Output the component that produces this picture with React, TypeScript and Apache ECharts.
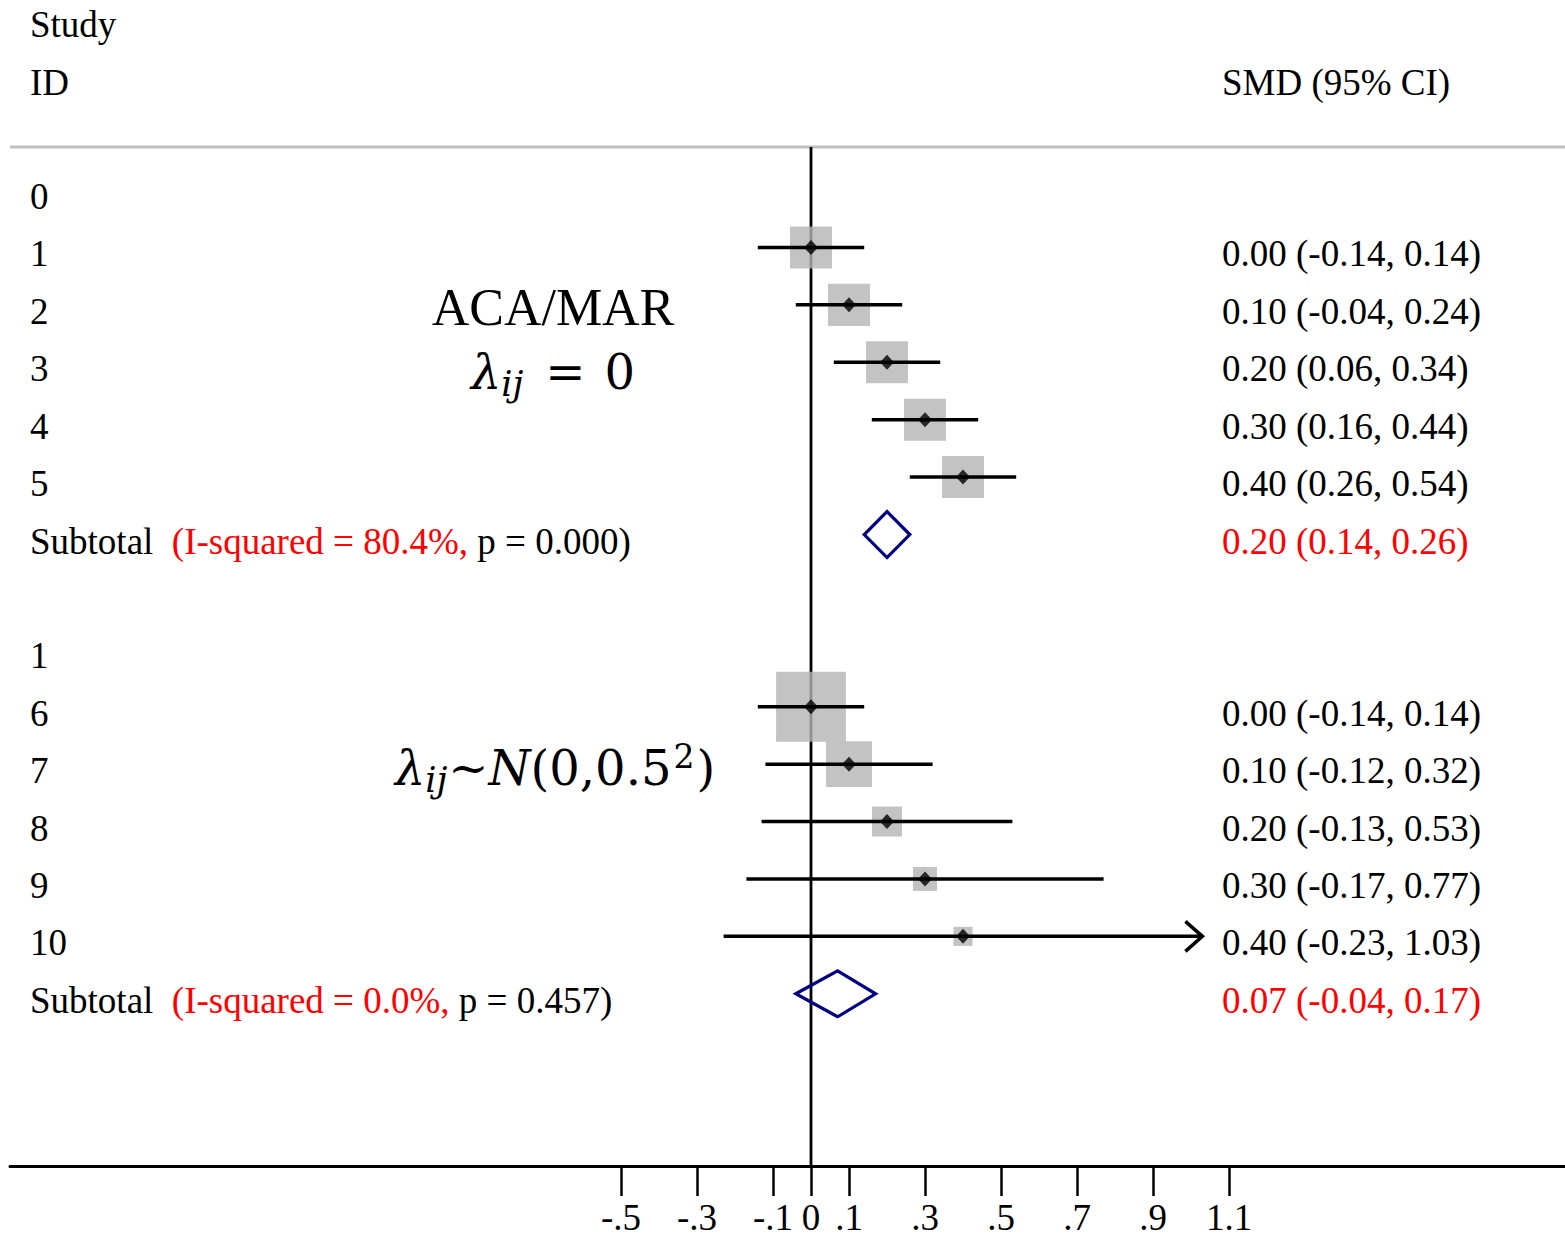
import React, { useEffect, useRef } from "react";
import * as echarts from "echarts";

// ---------------- data ----------------
const groupLabels = ["0", "1"];

const studyIdsA = ["1", "2", "3", "4", "5"];
const smdA = [0.0, 0.1, 0.2, 0.3, 0.4];
const lowerA = [-0.14, -0.04, 0.06, 0.16, 0.26];
const upperA = [0.14, 0.24, 0.34, 0.44, 0.54];
const weightA = [20, 20, 20, 20, 20];

const studyIdsB = ["6", "7", "8", "9", "10"];
const smdB = [0.0, 0.1, 0.2, 0.3, 0.4];
const lowerB = [-0.14, -0.12, -0.13, -0.17, -0.23];
const upperB = [0.14, 0.32, 0.53, 0.77, 1.03];
const weightB = [55.3, 23.9, 10.2, 6.5, 4.1];

const subtotalSmd = [0.2, 0.07];
const subtotalLower = [0.14, -0.04];
const subtotalUpper = [0.26, 0.17];
const iSquared = ["80.4%", "0.0%"];
const pValues = ["0.000", "0.457"];

const xTicks = [-0.5, -0.3, -0.1, 0, 0.1, 0.3, 0.5, 0.7, 0.9, 1.1];
const arrowLimit = 1.0;

// ---------------- layout ----------------
const W = 1565;
const H = 1236;
const GRID_LEFT = 10;
const GRID_TOP = 147;
const AXIS_Y = 1166;
const ZERO_X = 811;
const PX_PER_UNIT = 380;
const X_MIN = (GRID_LEFT - ZERO_X) / PX_PER_UNIT;
const X_MAX = (W - ZERO_X) / PX_PER_UNIT;
const Y_MIN = -0.75;
const Y_MAX = 17;
const LEFT_TEXT_X = 30;
const RIGHT_TEXT_X = 1222;
const TEXT_DY = 6.5;
const BOX_SCALE = 9.4;
const DIAMOND_HALF_H = 23;

const SERIF = "'Liberation Serif', 'Times New Roman', serif";
const MATH = "'DejaVu Serif', serif";
const FS = 37;

type Row = {
  k: number;
  kind: "header" | "study" | "subtotal";
  g: number;
  id?: string;
  smd?: number;
  lo?: number;
  hi?: number;
  w?: number;
};

const groups = [
  { ids: studyIdsA, smd: smdA, lo: lowerA, hi: upperA, w: weightA },
  { ids: studyIdsB, smd: smdB, lo: lowerB, hi: upperB, w: weightB },
];

function buildRows(): Row[] {
  const rows: Row[] = [];
  let k = 0;
  groups.forEach((grp, g) => {
    rows.push({ k: k++, kind: "header", g, id: groupLabels[g] });
    grp.ids.forEach((id, i) => {
      rows.push({ k: k++, kind: "study", g, id, smd: grp.smd[i], lo: grp.lo[i], hi: grp.hi[i], w: grp.w[i] });
    });
    rows.push({ k: k++, kind: "subtotal", g, smd: subtotalSmd[g], lo: subtotalLower[g], hi: subtotalUpper[g] });
    k++; // blank spacer row
  });
  return rows;
}

const rows = buildRows();
const studyRows = rows.filter((r) => r.kind === "study");
const subtotalRows = rows.filter((r) => r.kind === "subtotal");

const f2 = (v: number) => v.toFixed(2);
const tickFmt = (v: number) => {
  if (Math.abs(v) < 1e-9) return "0";
  const s = String(Math.round(Math.abs(v) * 10) / 10).replace(/^0/, "");
  return (v < 0 ? "-" : "") + s;
};

const txt = (fill: string) => ({ fontSize: FS, fontFamily: SERIF, fill });

const mathRich = {
  l: { fontSize: 48, fontFamily: MATH, fontStyle: "italic", fill: "#000", lineHeight: 64 },
  s: { fontSize: 35, fontFamily: MATH, fontStyle: "italic", fill: "#000", lineHeight: 35, padding: [24, 1, 0, 0] },
  e: { fontSize: 48, fontFamily: MATH, fill: "#000", lineHeight: 64 },
  q: { fontSize: 48, fontFamily: MATH, fill: "#000", lineHeight: 64, padding: [0, 19, 0, 21] },
  p: { fontSize: 33, fontFamily: MATH, fill: "#000", lineHeight: 33, padding: [0, 2, 24, 2] },
};

export default function App() {
  const ref = useRef<HTMLDivElement>(null);

  useEffect(() => {
    if (!ref.current) return;
    const chart = echarts.init(ref.current, undefined, { renderer: "svg" });

    const option: any = {
      animation: false,
      backgroundColor: "#ffffff",
      grid: { left: GRID_LEFT, right: 0, top: GRID_TOP, bottom: H - AXIS_Y, containLabel: false },
      xAxis: {
        type: "value",
        min: X_MIN,
        max: X_MAX,
        axisLine: { show: true, onZero: false, lineStyle: { color: "#000", width: 3 } },
        axisTick: {
          show: true,
          customValues: xTicks,
          length: 30,
          inside: false,
          lineStyle: { color: "#000", width: 2.5 },
        },
        axisLabel: {
          show: true,
          customValues: xTicks,
          formatter: tickFmt,
          margin: 51,
          verticalAlign: "middle",
          lineHeight: 26,
          fontSize: FS,
          fontFamily: SERIF,
          color: "#000",
        },
        splitLine: { show: false },
      },
      yAxis: { type: "value", min: Y_MIN, max: Y_MAX, inverse: true, show: false },
      series: [
        {
          name: "topRule",
          type: "line",
          data: [[X_MIN, Y_MIN], [X_MAX, Y_MIN]],
          symbol: "none",
          clip: false,
          silent: true,
          lineStyle: { color: "#c0c0c0", width: 3 },
          z: 1,
        },
        {
          name: "zeroLine",
          type: "line",
          data: [[0, Y_MIN], [0, Y_MAX]],
          symbol: "none",
          clip: false,
          silent: true,
          lineStyle: { color: "#000", width: 2.8 },
          z: 1,
        },
        {
          name: "weights",
          type: "scatter",
          data: studyRows.map((r) => [r.smd, r.k, r.w]),
          symbol: "rect",
          symbolSize: (v: number[]) => Math.sqrt(v[2]) * BOX_SCALE,
          itemStyle: { color: "#b4b4b4" },
          silent: true,
          z: 2,
        },
        {
          name: "ci",
          type: "custom",
          clip: false,
          silent: true,
          z: 3,
          data: studyRows.map((r) => [r.lo, r.hi, r.k, (r.hi as number) > arrowLimit ? 1 : 0]),
          encode: { x: [0, 1], y: 2 },
          renderItem: (_p: any, api: any) => {
            const p1 = api.coord([api.value(0), api.value(2)]);
            const p2 = api.coord([api.value(1), api.value(2)]);
            const children: any[] = [
              {
                type: "line",
                shape: { x1: p1[0], y1: p1[1], x2: p2[0], y2: p2[1] },
                style: { stroke: "#000", lineWidth: 3.5 },
              },
            ];
            if (api.value(3) === 1) {
              children.push({
                type: "polyline",
                shape: { points: [[p2[0] - 17, p2[1] - 15], [p2[0], p2[1]], [p2[0] - 17, p2[1] + 15]] },
                style: { stroke: "#000", fill: "none", lineWidth: 3.5 },
              });
            }
            return { type: "group", children };
          },
        },
        {
          name: "estimates",
          type: "scatter",
          data: studyRows.map((r) => [r.smd, r.k]),
          symbol: "diamond",
          symbolSize: [14, 15],
          itemStyle: { color: "#000" },
          silent: true,
          z: 4,
        },
        {
          name: "subtotals",
          type: "custom",
          clip: false,
          silent: true,
          z: 4,
          data: subtotalRows.map((r) => [r.lo, r.smd, r.hi, r.k]),
          encode: { x: [0, 1, 2], y: 3 },
          renderItem: (_p: any, api: any) => {
            const y = api.value(3);
            const a = api.coord([api.value(0), y]);
            const m = api.coord([api.value(1), y]);
            const b = api.coord([api.value(2), y]);
            return {
              type: "polygon",
              shape: {
                points: [
                  [a[0], a[1]],
                  [m[0], m[1] - DIAMOND_HALF_H],
                  [b[0], b[1]],
                  [m[0], m[1] + DIAMOND_HALF_H],
                ],
              },
              style: { stroke: "#000080", fill: "none", lineWidth: 3.2 },
            };
          },
        },
        {
          name: "labels",
          type: "custom",
          clip: false,
          silent: true,
          z: 5,
          data: rows.map((r) => [0, r.k]),
          renderItem: (p: any, api: any) => {
            const r = rows[p.dataIndex];
            const y = api.coord([0, r.k])[1] + TEXT_DY;
            const children: any[] = [];
            if (r.kind === "header" || r.kind === "study") {
              children.push({
                type: "text",
                x: LEFT_TEXT_X,
                y,
                style: { text: r.id, ...txt("#000"), align: "left", verticalAlign: "middle" },
              });
            }
            if (r.kind === "study") {
              children.push({
                type: "text",
                x: RIGHT_TEXT_X,
                y,
                style: {
                  text: `${f2(r.smd!)} (${f2(r.lo!)}, ${f2(r.hi!)})`,
                  ...txt("#000"),
                  align: "left",
                  verticalAlign: "middle",
                },
              });
            }
            if (r.kind === "subtotal") {
              children.push({
                type: "text",
                x: LEFT_TEXT_X,
                y,
                style: {
                  text: `{a|Subtotal  }{r|(I-squared = ${iSquared[r.g]}, }{a|p = ${pValues[r.g]})}`,
                  ...txt("#000"),
                  align: "left",
                  verticalAlign: "middle",
                  rich: { a: txt("#000"), r: txt("#ff0000") },
                },
              });
              children.push({
                type: "text",
                x: RIGHT_TEXT_X,
                y,
                style: {
                  text: `${f2(r.smd!)} (${f2(r.lo!)}, ${f2(r.hi!)})`,
                  ...txt("#ff0000"),
                  align: "left",
                  verticalAlign: "middle",
                },
              });
            }
            return { type: "group", children };
          },
        },
      ],
      graphic: [
        { type: "text", x: LEFT_TEXT_X, y: 24, style: { text: "Study", ...txt("#000"), align: "left", verticalAlign: "middle" } },
        { type: "text", x: LEFT_TEXT_X, y: 82, style: { text: "ID", ...txt("#000"), align: "left", verticalAlign: "middle" } },
        { type: "text", x: RIGHT_TEXT_X, y: 82, style: { text: "SMD (95% CI)", ...txt("#000"), align: "left", verticalAlign: "middle" } },
        {
          type: "text",
          x: 553,
          y: 307,
          style: { text: "ACA/MAR", fontSize: 52, fontFamily: SERIF, fill: "#000", align: "center", verticalAlign: "middle" },
        },
        {
          type: "text",
          x: 553,
          y: 372,
          style: {
            text: "{l|λ}{s|ij}{q|=}{e|0}",
            fontSize: 48,
            fontFamily: MATH,
            fill: "#000",
            align: "center",
            verticalAlign: "middle",
            rich: mathRich,
          },
        },
        {
          type: "text",
          x: 555,
          y: 768,
          style: {
            text: "{l|λ}{s|ij}{e|~}{l|N}{e|(0,0.5}{p|2}{e|)}",
            fontSize: 48,
            fontFamily: MATH,
            fill: "#000",
            align: "center",
            verticalAlign: "middle",
            rich: mathRich,
          },
        },
      ],
    };

    chart.setOption(option);
    return () => chart.dispose();
  }, []);

  return (
    <div
      ref={ref}
      style={{ position: "fixed", left: 0, top: 0, width: W + "px", height: H + "px", background: "#fff" }}
    />
  );
}
